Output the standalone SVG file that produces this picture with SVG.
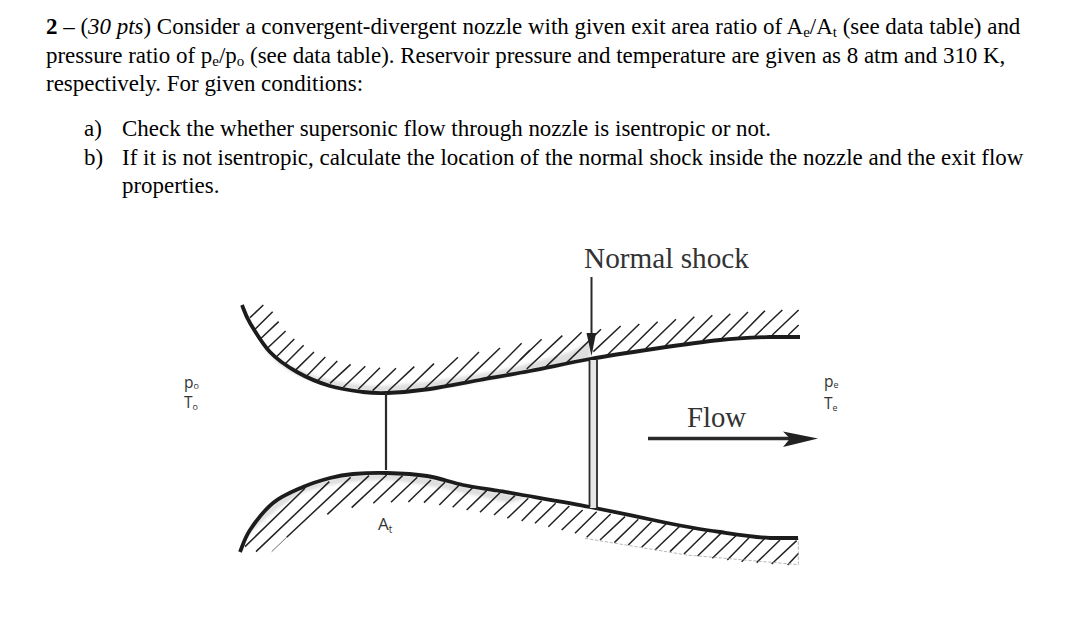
<svg xmlns="http://www.w3.org/2000/svg" width="1075" height="620" viewBox="0 0 1075 620">
<defs>
<filter id="soft" x="-5%" y="-20%" width="110%" height="140%"><feGaussianBlur stdDeviation="1.5"/></filter>
</defs>
<style>
.q{font-family:"Liberation Serif","Times New Roman",serif;font-size:22.95px;fill:#000}
.s{font-size:15px}
.lab{font-family:"Open Sans","Liberation Sans",sans-serif;fill:#333}
.big{font-family:"Liberation Serif",serif;font-size:28.5px;fill:#333}
.wall{fill:none;stroke:#1c1c1c;stroke-width:3.8;stroke-linecap:butt;stroke-linejoin:round}
.hatch{fill:none;stroke:#222;stroke-width:4.5}
.shade{fill:#c4c4c4;opacity:.55;filter:url(#soft)}
.ln{fill:none;stroke:#2a2a2a}
</style>
<rect width="1075" height="620" fill="#fff"/>
<g id="question">
<text class="q" x="46" y="34"><tspan font-weight="bold">2</tspan> – (<tspan font-style="italic">30 pts</tspan>) Consider a convergent-divergent nozzle with given exit area ratio of A<tspan class="s" dy="3">e</tspan><tspan dy="-3">/A</tspan><tspan class="s" dy="3">t</tspan><tspan dy="-3"> (see data table) and</tspan></text>
<text class="q" x="46" y="63">pressure ratio of p<tspan class="s" dy="3">e</tspan><tspan dy="-3">/p</tspan><tspan class="s" dy="3">o</tspan><tspan dy="-3"> (see data table). Reservoir pressure and temperature are given as 8 atm and 310 K,</tspan></text>
<text class="q" x="46" y="91">respectively. For given conditions:</text>
<text class="q" x="84" y="136">a)</text>
<text class="q" x="122" y="136">Check the whether supersonic flow through nozzle is isentropic or not.</text>
<text class="q" x="84" y="165">b)</text>
<text class="q" x="122" y="165">If it is not isentropic, calculate the location of the normal shock inside the nozzle and the exit flow</text>
<text class="q" x="122" y="193">properties.</text>
</g>
<g id="upper-wall">
<path class="shade" d="M262 345C280 372 310 388 387 393C440 392 500 378 590 359L592 340L570 352L520 366C470 376 420 384 380 386C330 384 290 372 262 345Z"/>
<g class="hatch" transform="translate(230 280) scale(.3333)"><path d="M60 113L100 75M75 148L128 95M90 178L146 125M112 205L167 153M138 232L193 177M165 252L221 196M195 272L252 216M228 290L286 231M262 303L322 243M300 310L362 253M340 322L406 259M385 328L450 263M428 332L498 265M475 333L553 260M530 330L612 251M585 325L684 232M645 318L747 216M705 305L810 204M770 295L875 190M830 280L900 210"/></g>
<g class="hatch" transform="translate(520 270) scale(.3333)"><path d="M0 270L65 208M20 297L127 197M78 290L185 187M140 278L243 178M220 245L302 168M262 255L358 162M322 245L413 155M378 235L468 148M435 228L523 140M492 220L577 136M548 212L631 131M603 208L684 126M655 203L735 122M705 198L787 120M757 195L836 120M805 195L836 165"/></g>
<path class="wall" d="M242 305C243.300 308 245.300 315.200 250 323C254.700 330.800 262.200 343.800 270 352C277.800 360.200 287 366.300 297 372C307 377.700 319 382.700 330 386C341 389.300 353.500 390.800 363 392C372.500 393.200 375.800 393.500 387 393C398.200 392.500 414.500 391.200 430 389C445.500 386.800 463.300 383 480 380C496.700 377 511.700 374.500 530 371C548.300 367.500 569.500 362.700 590 359C610.500 355.300 631.300 352.200 653 349C674.700 345.800 700.500 342 720 340C739.500 338 756.700 337.500 770 337L800 337"/>
</g>
<g id="lower-wall">
<path class="shade" d="M246 538C256 515 280 495 303 487C335 476 360 473 387 473C420 474 450 482 497 492L530 497L510 503C470 495 430 484 387 480C350 480 320 486 300 494C280 506 260 522 246 538Z"/>
<g class="hatch" transform="translate(230 450) scale(.3333)"><path d="M45 290L225 115M78 305L298 95M170 262L362 82M292 193L417 77M365 173L470 75M430 160L518 77M483 157L562 82M535 156L603 90M582 158L645 97M628 165L688 105M668 172L728 113M710 180L770 122M750 187L810 128M792 195L855 137M832 205L895 145"/><path stroke-width="2" d="M125 305L170 262"/></g>
<g class="hatch" transform="translate(520 470) scale(.3333)"><path d="M5 153L65 92M45 160L107 100M85 170L148 108M125 180L188 120M165 190L230 125M200 202L272 132M240 210L315 140M283 218L355 148M325 225L395 155M365 232L438 162M405 240L480 168M450 245L520 177M492 252L560 185M533 258L605 188M577 265L650 195M622 270L690 200M665 275L735 205M710 278L780 210M755 282L830 212M803 285L836 250"/><path stroke="#aaa" stroke-width="2.500" stroke-dasharray="10 5" d="M195 205L500 255L835 284L835 205"/></g>
<path class="wall" d="M240 552C241.700 548.300 244.500 538.200 250 530C255.500 521.800 264.200 510.200 273 503C281.800 495.800 293.500 491.200 303 487C312.500 482.800 321.700 480.200 330 478C338.300 475.800 343.500 474.800 353 474C362.500 473.200 374.700 472.700 387 473C399.300 473.300 414.300 474 427 476C439.700 478 451.300 482.600 463 485C474.700 487.400 487.500 488.900 497 490.500C504 491.700 512 493 520 494.500C531 496.500 570 503 590 507C610 511 632 515.500 653 520C674 524.500 700 529.500 720 532C737 534.500 756 537.500 770 538L798 538"/>
</g>
<g id="throat"><path class="ln" stroke-width="2.200" d="M386 393V470"/></g>
<g id="shock">
<rect x="590" y="360" width="7" height="148" fill="#e6e6e6"/>
<path class="ln" stroke-width="1.800" d="M589.500 360V507M597 360V509"/>
</g>
<g id="connectors">
<path class="ln" stroke-width="2" d="M591.500 277V340"/>
<path fill="#222" d="M586.500 333L596 333L591.500 356Z"/>
<path class="ln" stroke="#222" stroke-width="3.400" d="M648 438.500H790"/>
<path fill="#222" d="M783 431.500L818 438.500L783 447L790 438.500Z"/>
</g>
<g id="label-normal-shock"><text class="big" x="584" y="268" textLength="165" lengthAdjust="spacingAndGlyphs">Normal shock</text></g>
<g id="label-flow"><text class="big" x="687" y="427" textLength="59" lengthAdjust="spacingAndGlyphs">Flow</text></g>
<g id="label-reservoir">
<text class="lab" font-size="15.500" x="184" y="388">p<tspan font-size="9" dy="1">o</tspan></text>
<text class="lab" font-size="15.500" x="184" y="408">T<tspan font-size="9" dy="2">o</tspan></text>
</g>
<g id="label-exit">
<text class="lab" font-size="15.500" x="824" y="387">p<tspan font-size="9" dy="1">e</tspan></text>
<text class="lab" font-size="15.500" x="824" y="409">T<tspan font-size="9" dy="2">e</tspan></text>
</g>
<g id="label-throat"><text class="lab" font-size="17" x="378" y="530">A<tspan font-size="10" dy="3">t</tspan></text></g>
</svg>
